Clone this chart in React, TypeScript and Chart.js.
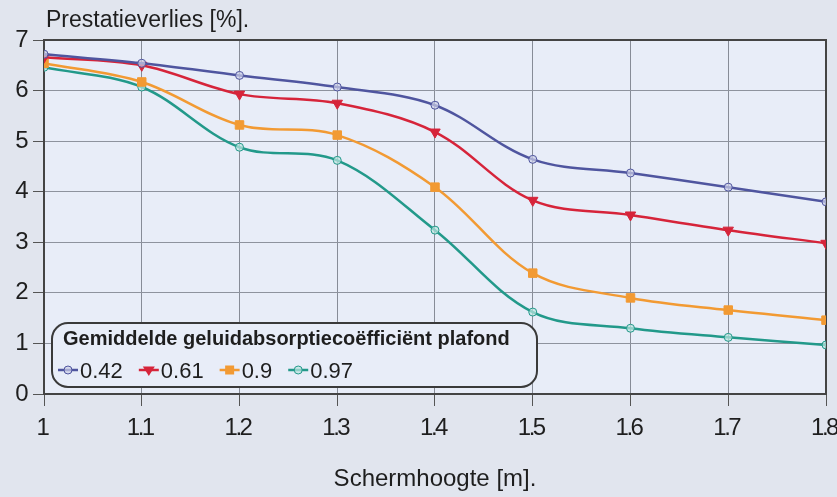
import React, { useEffect, useRef } from "react";
import { Chart, registerables } from "chart.js";

Chart.register(...registerables);

const xValues = [1, 1.1, 1.2, 1.3, 1.4, 1.5, 1.6, 1.7, 1.8];
const series042 = [6.72, 6.54, 6.3, 6.07, 5.71, 4.64, 4.37, 4.09, 3.8];
const series061 = [6.66, 6.5, 5.93, 5.75, 5.18, 3.83, 3.54, 3.24, 2.98];
const series090 = [6.54, 6.17, 5.32, 5.12, 4.09, 2.39, 1.9, 1.66, 1.46];
const series097 = [6.46, 6.07, 4.88, 4.62, 3.24, 1.62, 1.3, 1.12, 0.97];
const seriesLabels = ["0.42", "0.61", "0.9", "0.97"];
const xTickLabels = ["1", "1.1", "1.2", "1.3", "1.4", "1.5", "1.6", "1.7", "1.8"];
const yTickLabels = ["0", "1", "2", "3", "4", "5", "6", "7"];

const yTitle = "Prestatieverlies [%].";
const xTitle = "Schermhoogte [m].";
const legendTitle = "Gemiddelde geluidabsorptiecoëfficiënt plafond";

const FONT = "'Liberation Sans', Arial, Helvetica, sans-serif";
const PAGE_BG = "#e1e5ee";
const PLOT_BG = "#e8edf8";
const TEXT = "#1e1e1e";

const colors = ["#4f559f", "#d6243a", "#f29a33", "#22998a"];
const pointStyles = ["circle", "triangle", "rect", "circle"];
const pointRadii = [4, 6, 6, 4];
const pointRotations = [0, 180, 0, 0];
const pointFills = ["rgba(205,208,232,0.7)", "#d6243a", "#f29a33", "rgba(190,230,225,0.7)"];

function toPoints(vals: number[]) {
  return xValues.map((x, i) => ({ x, y: vals[i] }));
}

function drawMarker(ctx: CanvasRenderingContext2D, i: number, x: number, y: number) {
  const r = pointRadii[i];
  ctx.save();
  ctx.fillStyle = pointFills[i];
  ctx.strokeStyle = colors[i];
  ctx.lineWidth = 1;
  ctx.beginPath();
  if (pointStyles[i] === "circle") {
    ctx.arc(x, y, r, 0, Math.PI * 2);
    ctx.fill();
    ctx.stroke();
  } else if (pointStyles[i] === "triangle") {
    ctx.moveTo(x - r, y - r * 0.6);
    ctx.lineTo(x + r, y - r * 0.6);
    ctx.lineTo(x, y + r);
    ctx.closePath();
    ctx.fill();
  } else {
    ctx.rect(x - r * 0.75, y - r * 0.75, r * 1.5, r * 1.5);
    ctx.fill();
  }
  ctx.restore();
}

const decorPlugin = {
  id: "decor",
  beforeDraw(chart: any) {
    const { ctx, chartArea: a } = chart;
    ctx.fillStyle = PLOT_BG;
    ctx.fillRect(a.left, a.top, a.right - a.left, a.bottom - a.top);
    // tight tick-label spacing like the original
    (ctx as any).letterSpacing = "-2.5px";
  },
  beforeDatasetsDraw(chart: any) {
    const { ctx, chartArea: a } = chart;
    (ctx as any).letterSpacing = "0px";
    ctx.save();
    ctx.strokeStyle = "#444";
    ctx.lineWidth = 2;
    ctx.strokeRect(a.left, a.top, a.right - a.left, a.bottom - a.top);
    ctx.fillStyle = TEXT;
    ctx.font = `23px ${FONT}`;
    ctx.textBaseline = "alphabetic";
    ctx.textAlign = "left";
    ctx.fillText(yTitle, 46, 27);
    ctx.textAlign = "center";
    ctx.font = `24px ${FONT}`;
    ctx.fillText(xTitle, (a.left + a.right) / 2, 486);
    ctx.restore();
  },
  afterDraw(chart: any) {
    const { ctx } = chart;
    (ctx as any).letterSpacing = "0px";
    const bx = 52, by = 323, bw = 485, bh = 64, r = 16;
    ctx.save();
    ctx.beginPath();
    ctx.moveTo(bx + r, by);
    ctx.lineTo(bx + bw - r, by);
    ctx.arcTo(bx + bw, by, bx + bw, by + r, r);
    ctx.lineTo(bx + bw, by + bh - r);
    ctx.arcTo(bx + bw, by + bh, bx + bw - r, by + bh, r);
    ctx.lineTo(bx + r, by + bh);
    ctx.arcTo(bx, by + bh, bx, by + bh - r, r);
    ctx.lineTo(bx, by + r);
    ctx.arcTo(bx, by, bx + r, by, r);
    ctx.closePath();
    ctx.fillStyle = PLOT_BG;
    ctx.fill();
    ctx.strokeStyle = "#3a3a3a";
    ctx.lineWidth = 2;
    ctx.stroke();

    ctx.fillStyle = TEXT;
    ctx.textAlign = "left";
    ctx.textBaseline = "alphabetic";
    ctx.font = `bold 20px ${FONT}`;
    ctx.fillText(legendTitle, 63, 345);

    ctx.font = `22px ${FONT}`;
    let x = 58;
    const yMid = 370;
    chart.data.datasets.forEach((ds: any, i: number) => {
      ctx.strokeStyle = colors[i];
      ctx.lineWidth = 2.5;
      ctx.beginPath();
      ctx.moveTo(x, yMid);
      ctx.lineTo(x + 20, yMid);
      ctx.stroke();
      drawMarker(ctx, i, x + 10, yMid);
      x += 22;
      ctx.fillStyle = TEXT;
      ctx.fillText(ds.label, x, 378);
      x += ctx.measureText(ds.label).width + 16;
    });
    ctx.restore();
  },
};

export default function App() {
  const ref = useRef<HTMLCanvasElement | null>(null);

  useEffect(() => {
    document.body.style.margin = "0";
    const canvas = ref.current;
    if (!canvas) return;
    Chart.defaults.font.family = FONT;
    const allSeries = [series042, series061, series090, series097];
    const chart = new Chart(canvas, {
      type: "line",
      data: {
        datasets: allSeries.map((s, i) => ({
          label: seriesLabels[i],
          data: toPoints(s),
          borderColor: colors[i],
          backgroundColor: pointFills[i],
          pointBorderColor: colors[i],
          pointBackgroundColor: pointFills[i],
          pointStyle: pointStyles[i] as any,
          pointRotation: pointRotations[i],
          pointRadius: pointRadii[i],
          pointBorderWidth: 1,
          borderWidth: 2.5,
          tension: 0.35,
          fill: false,
        })),
      },
      options: {
        animation: false,
        responsive: false,
        devicePixelRatio: 1,
        layout: { padding: { left: 0, right: 11, top: 40, bottom: 0 } },
        plugins: {
          legend: { display: false },
          title: { display: false },
          tooltip: { enabled: false },
        },
        scales: {
          x: {
            type: "linear",
            min: 1,
            max: 1.8,
            afterBuildTicks: (scale: any) => {
              scale.ticks = xValues.map((v) => ({ value: v }));
            },
            afterFit: (scale: any) => {
              scale.height = 103;
              scale.paddingLeft = 0;
              scale.paddingRight = 0;
            },
            ticks: {
              autoSkip: false,
              maxRotation: 0,
              padding: 8,
              labelOffset: -2,
              color: TEXT,
              font: { size: 24 },
              callback: (v: any) => xTickLabels[xValues.findIndex((x) => Math.abs(x - v) < 1e-6)] ?? "",
            },
            grid: { color: "#878c97", lineWidth: 1, tickLength: 12, tickColor: "#555" },
            border: { display: true, color: "#444", width: 2 },
            title: { display: false },
          },
          y: {
            min: 0,
            max: 7,
            afterFit: (scale: any) => {
              scale.width = 44;
            },
            ticks: {
              stepSize: 1,
              padding: 7,
              color: TEXT,
              font: { size: 24 },
              callback: (v: any) => yTickLabels[Math.round(v)] ?? "",
            },
            grid: { color: "#8e939e", lineWidth: 1, tickLength: 11, tickColor: "#555" },
            border: { display: true, color: "#444", width: 2 },
          },
        },
      },
      plugins: [decorPlugin],
    });
    return () => chart.destroy();
  }, []);

  return (
    <div style={{ width: 837, height: 497, background: PAGE_BG, overflow: "hidden" }}>
      <canvas ref={ref} width={837} height={497} style={{ display: "block" }} />
    </div>
  );
}
